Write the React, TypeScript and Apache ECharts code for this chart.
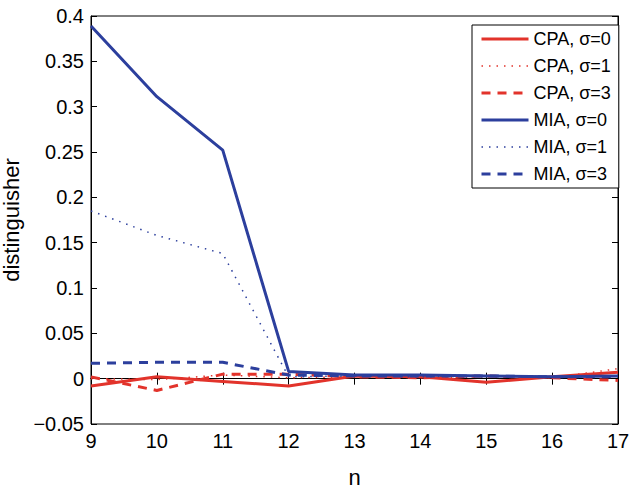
import React, { useEffect, useRef } from "react";
import * as echarts from "echarts";

const nValues = [9, 10, 11, 12, 13, 14, 15, 16, 17];
const cpaS0 = [-0.008, 0.002, -0.003, -0.008, 0.003, 0.002, -0.004, 0.002, 0.007];
const cpaS1 = [0.0, -0.001, 0.004, 0.001, 0.002, 0.001, 0.002, 0.001, 0.011];
const cpaS3 = [0.002, -0.013, 0.005, 0.005, 0.002, 0.001, 0.003, 0.001, -0.002];
const miaS0 = [0.389, 0.311, 0.252, 0.008, 0.004, 0.004, 0.003, 0.002, 0.003];
const miaS1 = [0.185, 0.158, 0.138, 0.002, 0.003, 0.002, 0.003, 0.002, 0.003];
const miaS3 = [0.017, 0.018, 0.018, 0.004, 0.003, 0.003, 0.003, 0.002, 0.002];

const RED = "#e2332b";
const BLUE = "#2c3f9d";
const FONT = "Liberation Sans, Arial, sans-serif";

function pairs(vals: number[]) {
  return nValues.map((n, i) => [n, vals[i]]);
}

function fmt(v: number) {
  const s = String(parseFloat(v.toFixed(2)));
  return s.startsWith("-") ? "\u2212" + s.slice(1) : s;
}

const DOT: any = [1.5, 6];
const DASH: any = [9, 7];

export default function App() {
  const ref = useRef<HTMLDivElement>(null);
  useEffect(() => {
    const chart = echarts.init(ref.current!, null, { renderer: "svg" });
    const mk = (name: string, vals: number[], color: string, type: any, width: number) => ({
      name,
      type: "line",
      data: pairs(vals),
      symbol: "none",
      lineStyle: { color, type, width },
      itemStyle: { color },
      z: 2,
    });
    const leg = (name: string, color: string, type: any, width: number) => ({
      name,
      lineStyle: { color, type, width },
      itemStyle: { opacity: 0 },
    });
    const tickCommon = { inside: true, length: 6, lineStyle: { color: "#000" } };
    chart.setOption({
      animation: false,
      backgroundColor: "#fff",
      grid: {
        left: 91, right: 22, top: 16, bottom: 64,
        outerBoundsMode: "none", containLabel: false,
        show: true, borderColor: "#000", borderWidth: 1, backgroundColor: "transparent",
      },
      legend: {
        orient: "vertical",
        left: 472,
        top: 25,
        backgroundColor: "#fff",
        borderColor: "#000",
        borderWidth: 1,
        borderRadius: 0,
        padding: [5, 8, 5, 8],
        itemWidth: 47,
        itemHeight: 14,
        itemGap: 9,
        itemStyle: { opacity: 0 },
        textStyle: { fontFamily: FONT, fontSize: 18, color: "#000" },
        data: [
          leg("CPA, σ=0", RED, "solid", 3),
          leg("CPA, σ=1", RED, DOT, 1.5),
          leg("CPA, σ=3", RED, DASH, 3),
          leg("MIA, σ=0", BLUE, "solid", 3),
          leg("MIA, σ=1", BLUE, DOT, 1.5),
          leg("MIA, σ=3", BLUE, DASH, 3),
        ],
      },
      xAxis: [
        {
          type: "value",
          min: 9,
          max: 17,
          interval: 1,
          name: "n",
          nameLocation: "middle",
          nameGap: 42,
          nameTextStyle: { fontFamily: FONT, fontSize: 22, color: "#000" },
          axisLine: { show: true, lineStyle: { color: "#000" } },
          axisTick: tickCommon,
          axisLabel: { fontFamily: FONT, fontSize: 20, color: "#000", margin: 7 },
          splitLine: { show: false },
        },
        {
          type: "value",
          position: "top",
          min: 9,
          max: 17,
          interval: 1,
          axisLine: { show: true, lineStyle: { color: "#000" } },
          axisTick: tickCommon,
          axisLabel: { show: false },
          splitLine: { show: false },
        },
      ],
      yAxis: [
        {
          type: "value",
          min: -0.05,
          max: 0.4,
          interval: 0.05,
          name: "distinguisher",
          nameLocation: "middle",
          nameGap: 57,
          nameTextStyle: { fontFamily: FONT, fontSize: 22, color: "#000" },
          axisLine: { show: true, lineStyle: { color: "#000" } },
          axisTick: tickCommon,
          axisLabel: { fontFamily: FONT, fontSize: 20, color: "#000", margin: 7, formatter: fmt },
          splitLine: { show: false },
        },
        {
          type: "value",
          position: "right",
          min: -0.05,
          max: 0.4,
          interval: 0.05,
          axisLine: { show: true, lineStyle: { color: "#000" } },
          axisTick: tickCommon,
          axisLabel: { show: false },
          splitLine: { show: false },
        },
      ],
      series: [
        mk("CPA, σ=0", cpaS0, RED, "solid", 3),
        mk("CPA, σ=1", cpaS1, RED, DOT, 1.5),
        mk("CPA, σ=3", cpaS3, RED, DASH, 3),
        mk("MIA, σ=0", miaS0, BLUE, "solid", 3),
        mk("MIA, σ=1", miaS1, BLUE, DOT, 1.5),
        mk("MIA, σ=3", miaS3, BLUE, DASH, 3),
      ],
    });
    return () => chart.dispose();
  }, []);
  return <div ref={ref} style={{ width: 640, height: 488, position: "absolute", left: 0, top: 0 }} />;
}
